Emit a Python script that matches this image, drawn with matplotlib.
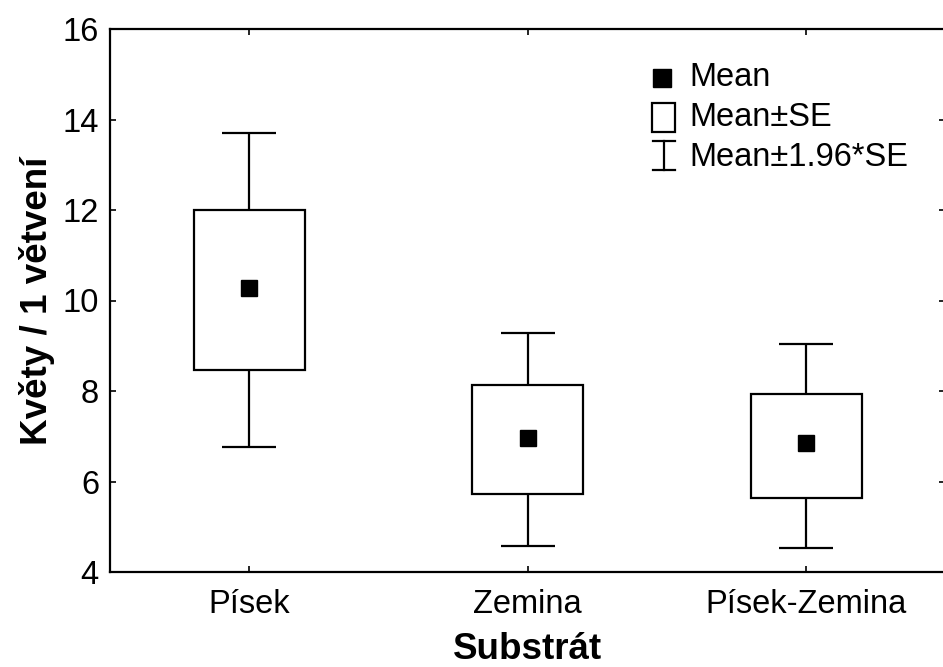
import matplotlib
matplotlib.use("Agg")
import matplotlib.pyplot as plt
from matplotlib.patches import Rectangle
from matplotlib.lines import Line2D

categories = ["Písek", "Zemina", "Písek-Zemina"]
means = [10.28, 6.96, 6.85]
se_low = [8.46, 5.72, 5.64]
se_high = [12.00, 8.13, 7.93]
ci_low = [6.76, 4.57, 4.54]
ci_high = [13.70, 9.28, 9.04]
yticks = [4, 6, 8, 10, 12, 14, 16]

plt.rcParams['font.family'] = ['Liberation Sans', 'DejaVu Sans']

fig = plt.figure(figsize=(9.43, 6.67), dpi=100)
W = 835.5
ax = fig.add_axes([110/943, 1-572/667, W/943, 543/667])

pos = list(range(1, len(categories)+1))
lw = 1.6
box_w = 0.40
cap_w = 0.195

# boxes (mean ± SE)
ax.bar(pos, [h - l for h, l in zip(se_high, se_low)], bottom=se_low, width=box_w,
       facecolor='white', edgecolor='black', linewidth=lw, zorder=2)
# whiskers (mean ± 1.96*SE)
ax.vlines(pos, se_high, ci_high, color='black', linewidth=lw, zorder=2)
ax.vlines(pos, ci_low, se_low, color='black', linewidth=lw, zorder=2)
ax.hlines(ci_high, [p - cap_w/2 for p in pos], [p + cap_w/2 for p in pos], color='black', linewidth=lw, zorder=2)
ax.hlines(ci_low, [p - cap_w/2 for p in pos], [p + cap_w/2 for p in pos], color='black', linewidth=lw, zorder=2)
# means
ax.plot(pos, means, linestyle='none', marker='s', markersize=11.5, color='black', zorder=3)

ax.set_xlim(0.5, len(categories) + 0.5)
ax.set_ylim(4, 16)
ax.set_yticks(yticks)
ax.set_xticks(pos)
ax.set_xticklabels(categories)
ax.tick_params(direction='in', length=4, width=1.2, top=True, right=True,
               labelsize=23.5, pad=8)
ax.tick_params(axis='x', pad=12)
for s in ax.spines.values():
    s.set_linewidth(lw)
ax.spines['right'].set_visible(False)

ax.set_xlabel("Substrát", fontsize=26.5, fontweight='bold', labelpad=9)
ax.set_ylabel("Květy / 1 větvení", fontsize=26.5, fontweight='bold', labelpad=5)

# legend drawn manually in axes coordinates
T = ax.transAxes
def ax_x(px):
    return (px - 110) / W
def ax_y(py):
    return (572 - py) / 543

ax.plot([ax_x(662)], [ax_y(78)], marker='s', markersize=13.5, color='black', transform=T, clip_on=False)
ax.add_patch(Rectangle((ax_x(652), ax_y(132)), 23/W, 29/543, transform=T,
                       facecolor='white', edgecolor='black', linewidth=lw))
ax.add_line(Line2D([ax_x(664), ax_x(664)], [ax_y(141), ax_y(170)], transform=T, color='black', linewidth=lw))
ax.add_line(Line2D([ax_x(653), ax_x(675)], [ax_y(141), ax_y(141)], transform=T, color='black', linewidth=lw))
ax.add_line(Line2D([ax_x(653), ax_x(675)], [ax_y(170), ax_y(170)], transform=T, color='black', linewidth=lw))
for txt, py in [("Mean", 78), ("Mean±SE", 118), ("Mean±1.96*SE", 157)]:
    ax.text(ax_x(689), ax_y(py), txt, transform=T, fontsize=23.5, va='center', ha='left')

fig.savefig("out.png", dpi=100)
